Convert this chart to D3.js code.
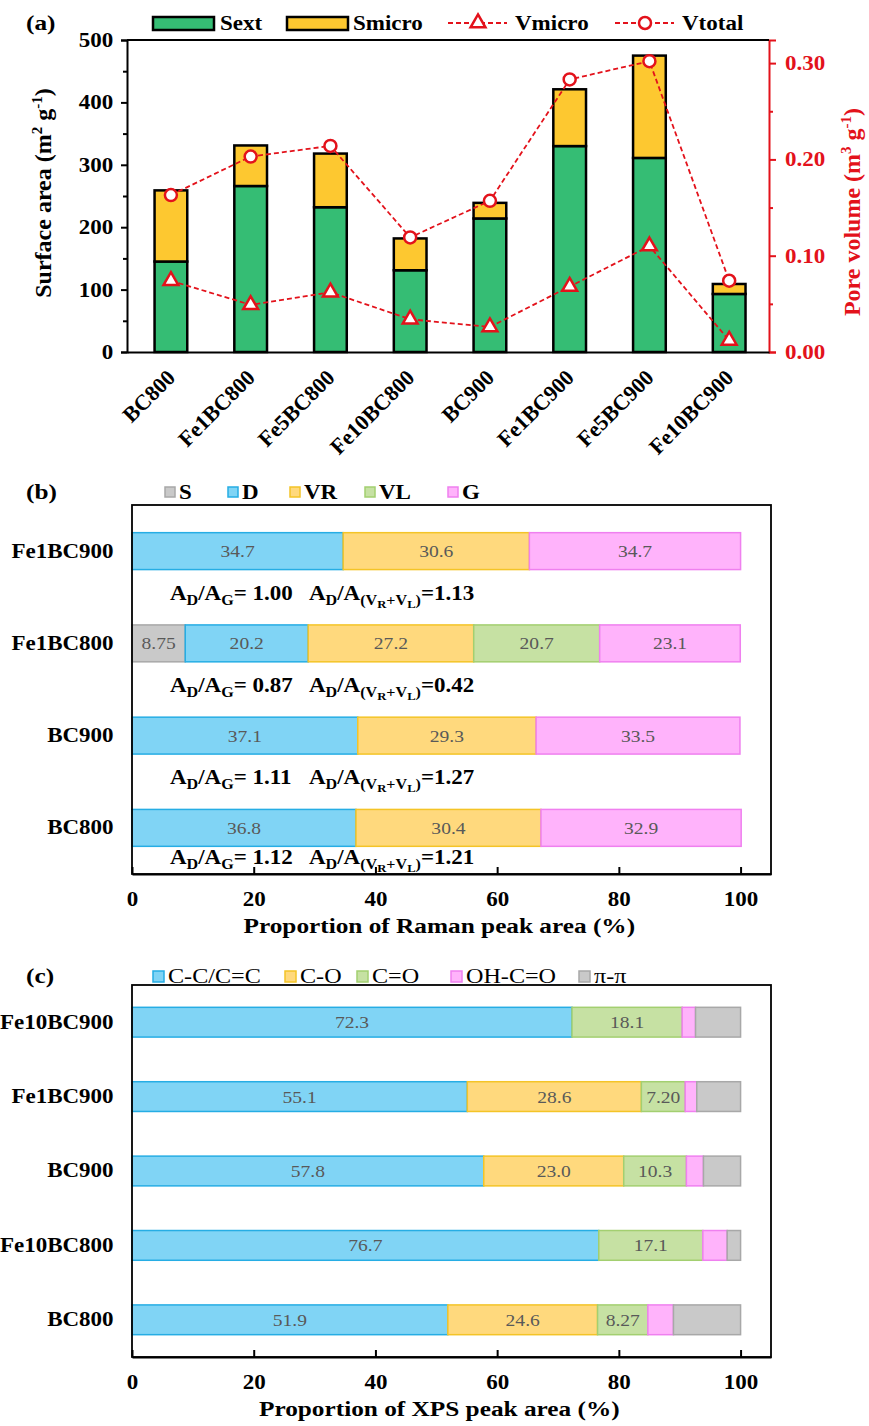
<!DOCTYPE html>
<html>
<head>
<meta charset="utf-8">
<script src="https://cdn.jsdelivr.net/npm/d3@7"></script>
<style>
  body { margin: 0; background: #fff; }
  svg { display: block; }
</style>
</head>
<body>
<script>
// ---- panel (a) data ----
const samples = ['BC800', 'Fe1BC800', 'Fe5BC800', 'Fe10BC800', 'BC900', 'Fe1BC900', 'Fe5BC900', 'Fe10BC900'];
const sext = [145, 266, 232, 131, 214, 330, 311, 93];
const smicro = [114, 65, 86, 51, 25, 91, 164, 16];
const vmicro = [0.074, 0.049, 0.062, 0.034, 0.026, 0.068, 0.110, 0.012];
const vtotal = [0.163, 0.203, 0.214, 0.119, 0.157, 0.283, 0.302, 0.074];
const surfTicks = [0, 100, 200, 300, 400, 500];
const poreTicks = [0, 0.1, 0.2, 0.3];

// ---- panel (b) data ----
const ramanSamples = ['Fe1BC900', 'Fe1BC800', 'BC900', 'BC800'];
const ramanKeys = ['S', 'D', 'VR', 'VL', 'G'];
const ramanS = [0, 8.75, 0, 0];
const ramanD = [34.7, 20.2, 37.1, 36.8];
const ramanVR = [30.6, 27.2, 29.3, 30.4];
const ramanVL = [0, 20.7, 0, 0];
const ramanG = [34.7, 23.1, 33.5, 32.9];
const adag = ['1.00', '0.87', '1.11', '1.12'];
const adv = ['1.13', '0.42', '1.27', '1.21'];

// ---- panel (c) data ----
const xpsSamples = ['Fe10BC900', 'Fe1BC900', 'BC900', 'Fe10BC800', 'BC800'];
const xpsKeys = ['C-C/C=C', 'C-O', 'C=O', 'OH-C=O', 'π-π'];
const xpsCC = [72.3, 55.1, 57.8, 76.7, 51.9];
const xpsCO = [0, 28.6, 23.0, 0, 24.6];
const xpsCdO = [18.1, 7.20, 10.3, 17.1, 8.27];
const xpsOH = [2.2, 1.9, 2.8, 4.0, 4.2];
const xpsPi = [7.4, 7.2, 6.1, 2.2, 11.03];
const pctTicks = [0, 20, 40, 60, 80, 100];

const SX = 1.15;            // the figure's lettering is a bit wide
const RED = '#E3121B';
const GREEN = '#35BD74';
const YELLOW = '#FDC830';

const svg = d3.select('body').append('svg')
    .attr('width', 869).attr('height', 1426)
    .style('font-family', '"Liberation Serif", "Times New Roman", serif');

function stext(g, x, y, str) {
    return g.append('text')
        .attr('transform', `translate(${x},${y}) scale(${SX},1)`)
        .text(str);
}

function styleAxis(g, size) {
    g.attr('font-family', null).attr('font-size', null);
    g.selectAll('text')
        .attr('font-size', size)
        .attr('font-weight', 'bold');
    g.selectAll('line, path').attr('stroke-width', 2);
}

// ================= panel (a) =================
const ga = svg.append('g');
const aLeft = 127, aRight = 769, aTop = 40, aBottom = 352;

const xA = d3.scaleBand().domain(samples).range([aLeft, aRight])
    .paddingInner(0.59).paddingOuter(0.32).align(0.54);
const yA = d3.scaleLinear().domain([0, 500]).range([aBottom, aTop]);
const yA2 = d3.scaleLinear().domain([0, 0.324]).range([aBottom, aTop]);
const xc = s => xA(s) + xA.bandwidth() / 2;

const rowsA = samples.map((s, i) => ({ sample: s, Sext: sext[i], Smicro: smicro[i] }));
const stackA = d3.stack().keys(['Sext', 'Smicro'])(rowsA);
const fillA = { Sext: GREEN, Smicro: YELLOW };

ga.selectAll('g.layer').data(stackA).join('g')
    .attr('class', 'layer')
    .attr('fill', d => fillA[d.key])
    .selectAll('rect').data(d => d).join('rect')
    .attr('x', d => xA(d.data.sample))
    .attr('width', xA.bandwidth())
    .attr('y', d => yA(d[1]))
    .attr('height', d => yA(d[0]) - yA(d[1]))
    .attr('stroke', '#000')
    .attr('stroke-width', 2.5);

// left axis
const axL = ga.append('g').attr('transform', `translate(${aLeft},0)`)
    .call(d3.axisLeft(yA).tickValues(surfTicks).tickSize(6).tickPadding(6));
styleAxis(axL, 20);
axL.selectAll('text').attr('transform', `scale(${SX},1)`);
const axLm = ga.append('g').attr('transform', `translate(${aLeft},0)`)
    .call(d3.axisLeft(yA).tickValues(d3.range(50, 500, 100)).tickSize(4).tickFormat(''));
axLm.select('.domain').remove();
axLm.selectAll('line').attr('stroke-width', 2);

// right axis
const axR = ga.append('g').attr('transform', `translate(${aRight},0)`)
    .attr('color', RED)
    .call(d3.axisRight(yA2).tickValues(poreTicks).tickFormat(d3.format('.2f')).tickSize(7).tickPadding(7));
styleAxis(axR, 20);
axR.selectAll('text').attr('transform', `scale(${SX},1)`);
const axRm = ga.append('g').attr('transform', `translate(${aRight},0)`)
    .attr('color', RED)
    .call(d3.axisRight(yA2).tickValues([0.05, 0.15, 0.25]).tickSize(4).tickFormat(''));
axRm.select('.domain').remove();
axRm.selectAll('line').attr('stroke-width', 2);

// bottom axis with slanted labels
const axB = ga.append('g').attr('transform', `translate(0,${aBottom})`)
    .call(d3.axisBottom(xA).tickSize(0).tickSizeOuter(0));
styleAxis(axB, 22);
axB.selectAll('text')
    .attr('transform', 'rotate(-45)')
    .attr('text-anchor', 'end')
    .attr('x', -15).attr('y', 23).attr('dy', 0);

// top frame line
ga.append('line')
    .attr('x1', aLeft).attr('x2', aRight).attr('y1', aTop).attr('y2', aTop)
    .attr('stroke', '#000').attr('stroke-width', 2);

// pore volume lines
const lineA = d3.line().x((d, i) => xc(samples[i])).y(d => yA2(d));
[vtotal, vmicro].forEach(series => {
    ga.append('path').datum(series)
        .attr('d', lineA)
        .attr('fill', 'none')
        .attr('stroke', RED)
        .attr('stroke-width', 1.8)
        .attr('stroke-dasharray', '5,3');
});
ga.selectAll('circle.vt').data(vtotal).join('circle')
    .attr('class', 'vt')
    .attr('cx', (d, i) => xc(samples[i])).attr('cy', d => yA2(d))
    .attr('r', 6).attr('fill', '#fff').attr('stroke', RED).attr('stroke-width', 2.5);
const tri = d3.symbol(d3.symbolTriangle).size(95);
ga.selectAll('path.vm').data(vmicro).join('path')
    .attr('class', 'vm')
    .attr('d', tri)
    .attr('transform', (d, i) => `translate(${xc(samples[i])},${yA2(d)})`)
    .attr('fill', '#fff').attr('stroke', RED).attr('stroke-width', 2.5);

// axis titles
const tl = ga.append('text')
    .attr('transform', 'translate(51,193) rotate(-90)')
    .attr('text-anchor', 'middle').attr('font-weight', 'bold').attr('font-size', 24);
tl.append('tspan').text('Surface area (m');
tl.append('tspan').attr('font-size', 15).attr('dy', -9).text('2');
tl.append('tspan').attr('dy', 9).text(' g');
tl.append('tspan').attr('font-size', 15).attr('dy', -9).text('-1');
tl.append('tspan').attr('dy', 9).text(')');

const tr = ga.append('text')
    .attr('transform', 'translate(860,212) rotate(-90)')
    .attr('text-anchor', 'middle').attr('font-weight', 'bold').attr('font-size', 24)
    .attr('fill', RED);
tr.append('tspan').text('Pore volume (m');
tr.append('tspan').attr('font-size', 15).attr('dy', -9).text('3');
tr.append('tspan').attr('dy', 9).text(' g');
tr.append('tspan').attr('font-size', 15).attr('dy', -9).text('-1');
tr.append('tspan').attr('dy', 9).text(')');

// legend (a)
const la = ga.append('g').attr('font-weight', 'bold').attr('font-size', 20);
la.append('rect').attr('x', 153).attr('y', 17).attr('width', 61).attr('height', 13)
    .attr('fill', GREEN).attr('stroke', '#000').attr('stroke-width', 2.5);
stext(la, 220, 30, 'Sext');
la.append('rect').attr('x', 287).attr('y', 17).attr('width', 61).attr('height', 13)
    .attr('fill', YELLOW).attr('stroke', '#000').attr('stroke-width', 2.5);
stext(la, 353, 30, 'Smicro');
[[448, 'tri', 'Vmicro', 515], [615, 'circ', 'Vtotal', 682]].forEach(([x0, m, name, tx]) => {
    la.append('line').attr('x1', x0).attr('x2', x0 + 59).attr('y1', 23).attr('y2', 23)
        .attr('stroke', RED).attr('stroke-width', 1.8).attr('stroke-dasharray', '5,3');
    if (m === 'tri') {
        la.append('path').attr('d', tri).attr('transform', `translate(${x0 + 30},23)`)
            .attr('fill', '#fff').attr('stroke', RED).attr('stroke-width', 2.5);
    } else {
        la.append('circle').attr('cx', x0 + 30).attr('cy', 23).attr('r', 6)
            .attr('fill', '#fff').attr('stroke', RED).attr('stroke-width', 2.5);
    }
    stext(la, tx, 30, name);
});

stext(ga, 26, 30, '(a)').attr('font-weight', 'bold').attr('font-size', 22);

// ================= panels (b) and (c) =================
function hbarPanel(cfg) {
    const g = svg.append('g');
    const left = 132, right = 771;
    const x = d3.scaleLinear().domain([0, 105]).range([left, right]);
    const y = d3.scaleBand().domain(cfg.samples).range([cfg.top, cfg.bottom])
        .paddingInner(0.6).paddingOuter(0.3);

    const rows = cfg.samples.map((s, i) => {
        const r = { sample: s };
        cfg.keys.forEach((k, j) => { r[k] = cfg.values[j][i]; });
        return r;
    });
    const layers = d3.stack().keys(cfg.keys)(rows);

    const lg = g.selectAll('g.layer').data(layers).join('g')
        .attr('class', 'layer')
        .attr('fill', (d, i) => cfg.fills[i])
        .attr('stroke', (d, i) => cfg.strokes[i]);
    lg.selectAll('rect').data(d => d.filter(v => v[1] - v[0] > 0)).join('rect')
        .attr('x', d => x(d[0]))
        .attr('width', d => x(d[1]) - x(d[0]))
        .attr('y', d => y(d.data.sample))
        .attr('height', y.bandwidth())
        .attr('stroke-width', 1.5);

    // value labels
    const fmt = d3.format('.3r');
    layers.forEach((layer, li) => {
        if (!cfg.labelled[li]) return;
        layer.filter(v => v[1] - v[0] > 0).forEach(v => {
            stext(g, (x(v[0]) + x(v[1])) / 2, y(v.data.sample) + y.bandwidth() / 2 + 6, fmt(v[1] - v[0]))
                .attr('text-anchor', 'middle')
                .attr('font-size', 17)
                .attr('fill', '#595959');
        });
    });

    // frame
    g.append('rect')
        .attr('x', left).attr('y', cfg.top)
        .attr('width', right - left).attr('height', cfg.bottom - cfg.top)
        .attr('fill', 'none').attr('stroke', '#000').attr('stroke-width', 1.8);

    const axX = g.append('g').attr('transform', `translate(0,${cfg.bottom})`)
        .call(d3.axisBottom(x).tickValues(pctTicks).tickSizeInner(-7).tickSizeOuter(0).tickPadding(18));
    styleAxis(axX, 20);
    axX.selectAll('text').attr('transform', `scale(${SX},1)`);

    const axY = g.append('g').attr('transform', `translate(${left},0)`)
        .call(d3.axisLeft(y).tickSize(0).tickPadding(16));
    axY.select('.domain').remove();
    styleAxis(axY, 20);
    axY.selectAll('text').attr('transform', `scale(${SX},1)`);

    stext(g, x(50) + 3, cfg.bottom + 59, cfg.title)
        .attr('text-anchor', 'middle').attr('font-weight', 'bold').attr('font-size', 22);

    stext(g, 26, cfg.legendY + 7, cfg.tag).attr('font-weight', 'bold').attr('font-size', 22);

    // legend
    cfg.keys.forEach((k, i) => {
        const lx = cfg.legendX[i];
        g.append('rect')
            .attr('x', lx).attr('y', cfg.legendY - 5)
            .attr('width', cfg.swatch).attr('height', cfg.swatch)
            .attr('fill', cfg.fills[i]).attr('stroke', cfg.strokes[i]).attr('stroke-width', 1.5);
        stext(g, lx + cfg.swatch + 4, cfg.legendY + 7, k)
            .attr('font-size', cfg.legendSize)
            .attr('font-weight', cfg.legendWeight);
    });

    return { g, x, y };
}

// (b) Raman
const pb = hbarPanel({
    samples: ramanSamples, keys: ramanKeys,
    values: [ramanS, ramanD, ramanVR, ramanVL, ramanG],
    fills: ['#C9C9C9', '#80D4F5', '#FFD97D', '#C6E1A3', '#FFB3FB'],
    strokes: ['#A8A8A8', '#26ADE4', '#F4C427', '#A3CF70', '#EF80EF'],
    labelled: [true, true, true, true, true],
    top: 505, bottom: 874,
    title: 'Proportion of Raman peak area (%)',
    tag: '(b)',
    legendY: 492, legendX: [165, 228, 290, 365, 448], swatch: 10,
    legendSize: 20, legendWeight: 'bold'
});

function ratioText(g, x, y, parts) {
    const t = g.append('text')
        .attr('transform', `translate(${x},${y}) scale(${SX},1)`)
        .attr('font-weight', 'bold').attr('font-size', 20);
    parts.forEach(([str, size, dy]) => {
        t.append('tspan').attr('font-size', size).attr('dy', dy).text(str);
    });
}
ramanSamples.forEach((s, i) => {
    const yb = pb.y(s) + pb.y.bandwidth() + (i === ramanSamples.length - 1 ? 18 : 30);
    ratioText(pb.g, 170, yb, [['A', 20, 0], ['D', 14, 5], ['/A', 20, -5], ['G', 14, 5], ['= ' + adag[i], 20, -5]]);
    ratioText(pb.g, 309, yb, [['A', 20, 0], ['D', 14, 5], ['/A', 20, -5], ['(V', 14, 5], ['R', 11, 3],
        ['+V', 14, -3], ['L', 11, 3], [')', 14, -3], ['=' + adv[i], 20, -5]]);
});

// (c) XPS
hbarPanel({
    samples: xpsSamples, keys: xpsKeys,
    values: [xpsCC, xpsCO, xpsCdO, xpsOH, xpsPi],
    fills: ['#80D4F5', '#FFD97D', '#C6E1A3', '#FFB3FB', '#C9C9C9'],
    strokes: ['#26ADE4', '#F4C427', '#A3CF70', '#EF80EF', '#A8A8A8'],
    labelled: [true, true, true, false, false],
    top: 985, bottom: 1357,
    title: 'Proportion of XPS peak area (%)',
    tag: '(c)',
    legendY: 976, legendX: [153, 285, 357, 451, 579], swatch: 11,
    legendSize: 21, legendWeight: 'normal'
});
</script>
</body>
</html>
